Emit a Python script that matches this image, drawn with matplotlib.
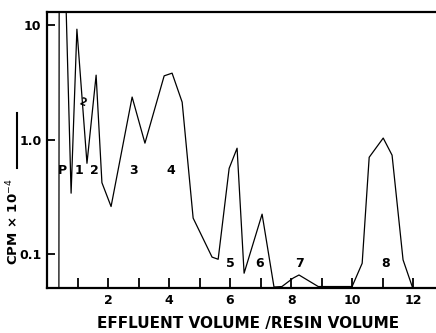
import numpy as np
import matplotlib
matplotlib.use("Agg")
import matplotlib.pyplot as plt

# effluent volume / resin volume and counts (CPM x 10^-4)
volume = [0.39, 0.40, 0.58, 0.79, 0.98, 1.31, 1.61, 1.80, 2.10, 2.79, 3.21,
          3.84, 4.10, 4.43, 4.79, 5.41, 5.61, 5.97, 6.23, 6.46, 7.05, 7.44,
          7.70, 8.07, 8.26, 8.89, 10.0, 10.33, 10.56, 11.02, 11.31, 11.67, 11.97]
cpm = [0.05, 40, 40, 0.34, 9.2, 0.62, 3.65, 0.42, 0.26, 2.35, 0.93,
       3.6, 3.8, 2.12, 0.206, 0.094, 0.090, 0.56, 0.84, 0.068, 0.223, 0.0515,
       0.052, 0.0617, 0.0656, 0.052, 0.052, 0.083, 0.70, 1.03, 0.73, 0.089, 0.052]

peak_labels = ["P", "1", "2", "3", "4", "5", "6", "7", "8"]
peak_x = [0.52, 1.05, 1.54, 2.82, 4.07, 6.0, 6.98, 8.26, 11.11]
peak_y = [0.54, 0.54, 0.54, 0.54, 0.54, 0.082, 0.082, 0.083, 0.083]

xticks = [1, 2, 3, 4, 5, 6, 7, 8, 9, 10, 11, 12]
xtick_labels = ["", "2", "", "4", "", "6", "", "8", "", "10", "", "12"]
yticks = [0.1, 1.0, 10]
ytick_labels = ["0.1", "1.0", "10"]

fig = plt.figure(figsize=(4.36, 3.33), dpi=100)
ax = fig.add_axes([47 / 436, 1 - 288 / 333, 1 - 47 / 436, 276 / 333])

ax.plot(volume, cpm, color="black", linewidth=0.9)
ax.set_yscale("log")
ax.set_xlim(0, 12.75)
ax.set_ylim(0.0505, 13.0)

for lab, x, y in zip(peak_labels, peak_x, peak_y):
    ax.text(x, y, lab, ha="center", va="center", fontsize=9, fontweight="bold")
ax.text(1.15, 2.1, "2", ha="center", va="center", fontsize=7, fontweight="bold", rotation=-20)

ax.set_xticks(xticks)
ax.set_xticklabels(xtick_labels, fontsize=9, fontweight="bold")
ax.set_yticks(yticks)
ax.set_yticklabels(ytick_labels, fontsize=9, fontweight="bold")
ax.yaxis.set_minor_locator(matplotlib.ticker.NullLocator())
ax.tick_params(axis="x", direction="in", length=7, width=1.3, pad=4)
ax.tick_params(axis="y", direction="in", length=6, width=1.3, pad=4)

ax.spines["right"].set_visible(False)
for s in ["left", "top", "bottom"]:
    ax.spines[s].set_linewidth(1.6)

ax.set_xlabel("EFFLUENT VOLUME /RESIN VOLUME", fontsize=11, fontweight="bold", labelpad=2)
ax.xaxis.set_label_coords((248 - 47) / 389, -28 / 276)

fig.text(13 / 436, 1 - 222 / 333, "CPM \u00d7 10$^{-4}$", rotation=90, ha="center", va="center",
         fontsize=9.5, fontweight="bold")
fig.add_artist(plt.Line2D([17 / 436, 17 / 436], [1 - 113 / 333, 1 - 168 / 333],
                          color="black", linewidth=1.5))

fig.savefig("out.png", dpi=100)
